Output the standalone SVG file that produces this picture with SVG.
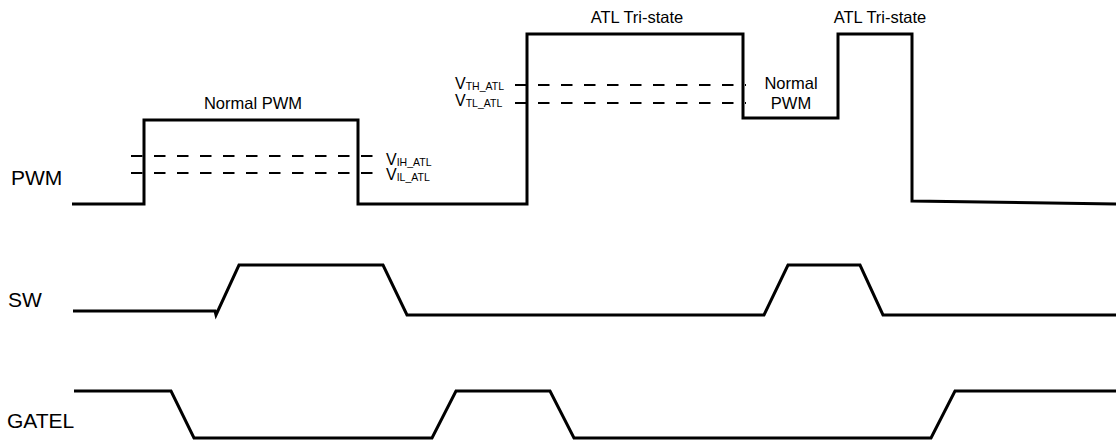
<svg xmlns="http://www.w3.org/2000/svg" width="1116" height="440" viewBox="0 0 1116 440">
<style>
.wave{fill:none;stroke:#000;stroke-width:3;stroke-linejoin:miter}
.dash{fill:none;stroke:#000;stroke-width:1.8;stroke-dasharray:11.5 11.5}
.lbl{font-family:"Liberation Sans",Arial,sans-serif;font-size:21px;fill:#000}
.ann{font-family:"Liberation Sans",Arial,sans-serif;font-size:16.5px;fill:#000}
.v{font-family:"Liberation Sans",Arial,sans-serif;font-size:16px;fill:#000}
.sub{font-size:10.5px}
</style>
<rect width="1116" height="440" fill="#fff"/>
<g id="pwm">
<text class="lbl" x="11" y="185">PWM</text>
<path class="wave" d="M72,204 H144 V120 H358 V204 H527 V34 H743 V118 H838 V34 H912 V201 L1116,204"/>
</g>
<g id="thresholds">
<path class="dash" d="M131,156 H376 M131,173 H376"/>
<path class="dash" d="M515,85 H746 M515,103 H746"/>
<text class="v" x="386" y="165">V<tspan class="sub" dy="1">IH_ATL</tspan></text>
<text class="v" x="386" y="180">V<tspan class="sub" dy="1">IL_ATL</tspan></text>
<text class="v" x="455" y="89">V<tspan class="sub" dy="1">TH_ATL</tspan></text>
<text class="v" x="455" y="106">V<tspan class="sub" dy="1">TL_ATL</tspan></text>
</g>
<g id="annotations">
<text class="ann" x="253" y="109" text-anchor="middle">Normal PWM</text>
<text class="ann" x="637" y="23" text-anchor="middle">ATL Tri-state</text>
<text class="ann" x="880" y="23" text-anchor="middle">ATL Tri-state</text>
<text class="ann" x="791" y="89" text-anchor="middle">Normal</text>
<text class="ann" x="791" y="109" text-anchor="middle">PWM</text>
</g>
<g id="sw">
<text class="lbl" x="8" y="307">SW</text>
<path class="wave" d="M73,311 H215 L216,315 L239,265 H383 L407,315 H764 L788,265 H860 L883,315 H1116"/>
</g>
<g id="gatel">
<text class="lbl" x="7" y="428">GATEL</text>
<path class="wave" d="M74,391 H171 L194,438 H432 L456,391 H550 L574,438 H931 L955,391 H1116"/>
</g>
</svg>
